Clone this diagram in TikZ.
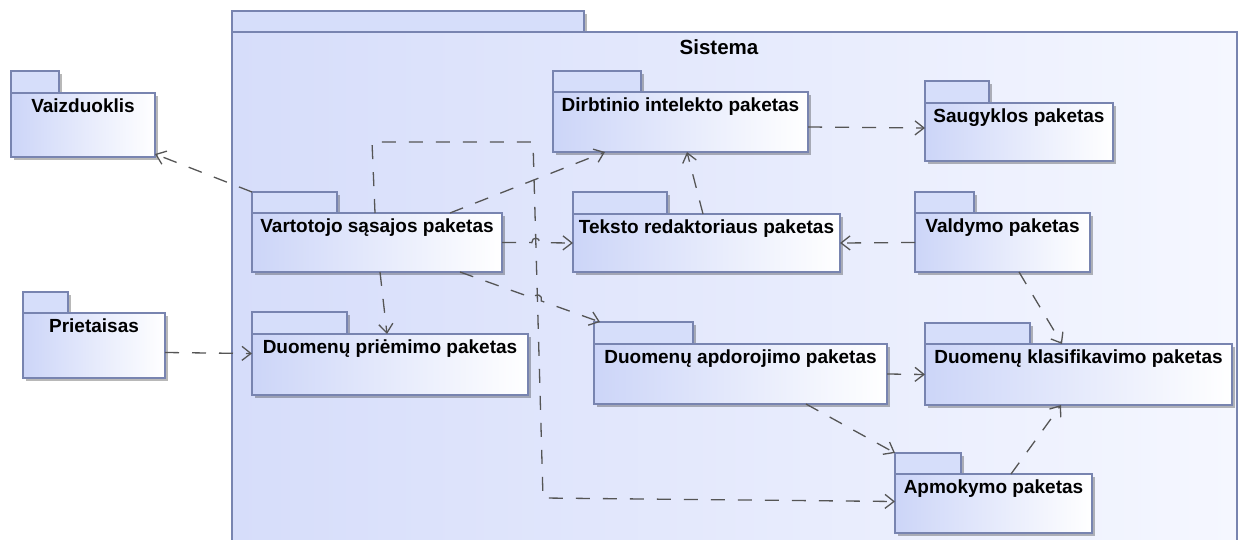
\documentclass[tikz,border=0pt]{standalone}
\usepackage{fontspec}
\setmainfont{Liberation Sans}
\usetikzlibrary{arrows.meta,shadows,calc}

\definecolor{pkgedge}{RGB}{120,132,176}
\definecolor{pkgdark}{RGB}{204,213,248}
\definecolor{pkgtabfill}{RGB}{214,222,250}
\definecolor{sysleft}{RGB}{214,221,250}
\definecolor{sysright}{RGB}{245,247,255}
\definecolor{depline}{RGB}{85,85,85}

\tikzset{
  pkgshadow/.style={drop shadow={shadow xshift=3pt,shadow yshift=-3pt,fill=black,opacity=0.28}},
  pkgtab/.style={draw=pkgedge,line width=1.2pt,fill=pkgtabfill,pkgshadow},
  pkgbody/.style={rectangle,draw=pkgedge,line width=1.2pt,left color=pkgdark,right color=white,
    pkgshadow,inner sep=0pt,outer sep=0pt},
  sysbody/.style={rectangle,draw=pkgedge,line width=1.2pt,left color=sysleft,right color=sysright,
    inner sep=0pt,outer sep=0pt},
  pkgtext/.style={font=\fontsize{19}{22}\selectfont\bfseries,text=black,inner sep=0pt},
  dep/.style={draw=depline,line width=1.3pt,dash pattern=on 14pt off 13pt,
    -{Straight Barb[length=9pt,width=14pt,line width=1.3pt]}},
}

% UML package: name, left x, tab top y, body width, body height, tab width, tab height, title
\newcommand\umlpackage[8]{%
  \path[pkgtab] (#2,#3) rectangle ++(#6,#7);
  \node[pkgbody,minimum width=#4pt,minimum height=#5pt,anchor=north west,
        label={[pkgtext,anchor=north,yshift=-6pt]north:#8}] (#1) at (#2,#3+#7) {};
}

\begin{document}
\begin{tikzpicture}[x=1pt,y=-1pt]
\useasboundingbox (0,0) rectangle (1238,540);

% enclosing package
\path[pkgtab] (232,11) rectangle (584,32);
\node[sysbody,minimum width=1005pt,minimum height=520pt,anchor=north west] (sistema) at (232,32) {};
\node[pkgtext,font=\fontsize{20.5}{24}\selectfont\bfseries,anchor=north] (sistemaname) at (719,39) {Sistema};

\umlpackage{vaiz}{11}{71}{144}{64}{48}{22}{Vaizduoklis}
\umlpackage{priet}{23}{292}{142}{65}{45}{21}{Prietaisas}
\umlpackage{vart}{252}{192}{250}{59}{85}{21}{Vartotojo sąsajos paketas}
\umlpackage{prie}{252}{312}{276}{61}{95}{22}{Duomenų priėmimo paketas}
\umlpackage{dirb}{553}{71}{255}{60}{88}{21}{Dirbtinio intelekto paketas}
\umlpackage{saug}{925}{81}{188}{58}{64}{22}{Saugyklos paketas}
\umlpackage{teks}{573}{192}{267}{58}{94}{22}{Teksto redaktoriaus paketas}
\umlpackage{vald}{915}{192}{175}{59}{59}{21}{Valdymo paketas}
\umlpackage{apdo}{594}{322}{293}{60}{99}{22}{Duomenų apdorojimo paketas}
\umlpackage{klas}{925}{323}{307}{61}{105}{21}{Duomenų klasifikavimo paketas}
\umlpackage{apmo}{895}{453}{197}{59}{66}{21}{Apmokymo paketas}

% bends of the long routed dependency
\coordinate (bendA) at (372,142);
\coordinate (bendB) at (533,142);
\coordinate (bendC) at (543,498);
% line hops where two dependencies cross
\coordinate (hopAin)  at (531.8,242.6);
\coordinate (hopAout) at (539.8,242.7);
\coordinate (hopBin)  at (533.6,298.3);
\coordinate (hopBout) at (541.2,300.9);

% dependencies
\draw[dep] ($(vart.north west)+(0,-21)$) -- ($(vaiz.south east)+(0,-3)$);
\draw[dep] ($(vart.north west)+(198,0)$) -- ($(dirb.south west)+(52,0)$);
\draw[dep] (vart.east) -- (hopAin)
  .. controls ($(hopAin)+(0,-6)$) and ($(hopAout)+(0,-6)$) .. (hopAout) -- (teks.west);
\draw[dep] ($(vart.south west)+(128,0)$) -- ($(prie.north west)+(135,0)$);
\draw[dep] ($(vart.south west)+(208,0)$) -- (hopBin)
  .. controls ($(hopBin)+(2,-6)$) and ($(hopBout)+(2,-6)$) .. (hopBout)
  -- ($(apdo.north west)+(6,-22)$);
\draw[dep] ($(vart.north west)+(123,0)$) -- (bendA) -- (bendB) -- (bendC) -- ($(apmo.west)+(0,-2)$);
\draw[dep] ($(teks.north west)+(130,0)$) -- ($(dirb.south west)+(134,0)$);
\draw[dep] ($(dirb.east)+(0,5)$) -- ($(saug.west)+(0,-4)$);
\draw[dep] (vald.west) -- (teks.east);
\draw[dep] ($(vald.south west)+(104,0)$) -- ($(klas.north west)+(137,0)$);
\draw[dep] ($(priet.east)+(0,7)$) -- ($(prie.west)+(0,-11)$);
\draw[dep] (apdo.east) -- (klas.west);
\draw[dep] ($(apdo.south west)+(212,0)$) -- ($(apmo.north west)+(0,-21)$);
\draw[dep] ($(apmo.north west)+(116,0)$) -- ($(klas.south west)+(136,0)$);
\end{tikzpicture}
\end{document}
